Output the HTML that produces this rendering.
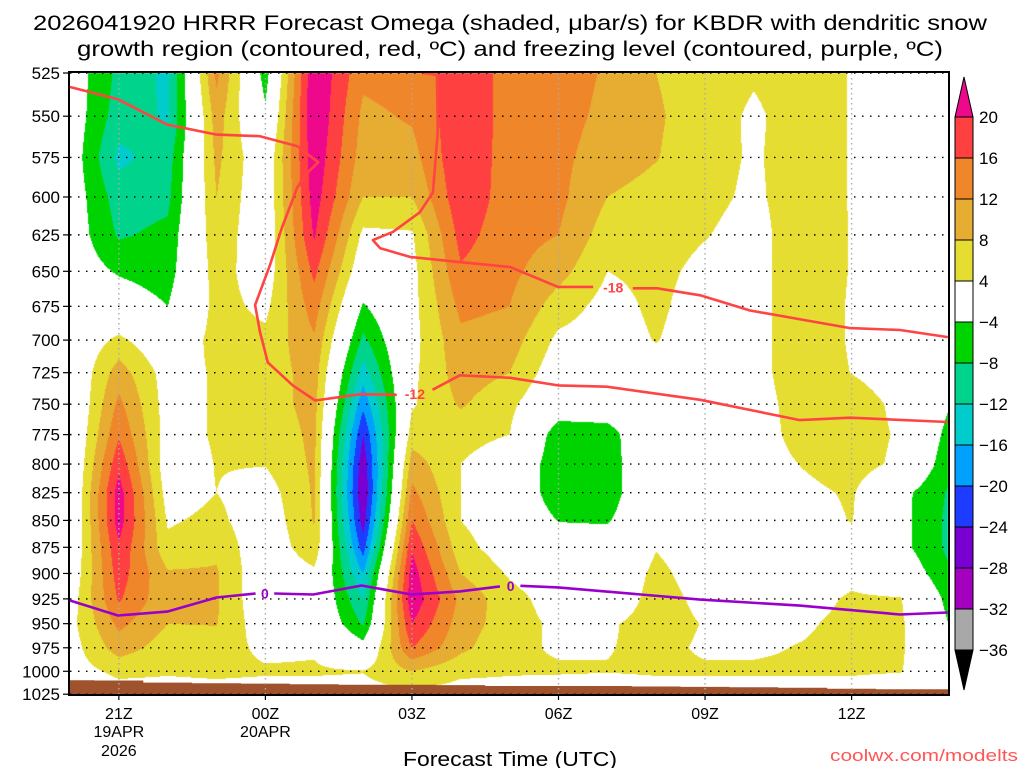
<!DOCTYPE html>
<html><head><meta charset="utf-8"><style>
html,body{margin:0;padding:0;background:#fff;width:1024px;height:768px;overflow:hidden}
#wrap{position:relative;width:1024px;height:768px}
canvas,svg{position:absolute;left:0;top:0}
text{font-family:"Liberation Sans",sans-serif}
</style></head><body>
<div id="wrap">
<canvas id="cv" width="1024" height="768"></canvas>
<svg id="sv" width="1024" height="768">
<text x="510" y="30" text-anchor="middle" font-size="21" textLength="954" lengthAdjust="spacingAndGlyphs">2026041920 HRRR Forecast Omega (shaded, μbar/s) for KBDR with dendritic snow</text>
<text x="510" y="56" text-anchor="middle" font-size="21" textLength="866" lengthAdjust="spacingAndGlyphs">growth region (contoured, red, ºC) and freezing level (contoured, purple, ºC)</text>
<text x="510" y="766" text-anchor="middle" font-size="20" textLength="214" lengthAdjust="spacingAndGlyphs">Forecast Time (UTC)</text>
<text x="1018" y="761" text-anchor="end" font-size="17" fill="#ff5555" textLength="188" lengthAdjust="spacingAndGlyphs">coolwx.com/modelts</text>
<g id="grid"></g><g id="lines"></g><g id="axes"></g><g id="cbar"></g>
</svg>
</div>
<script>
// ---- data ----
const levels=[525,550,575,600,625,650,675,700,725,750,775,800,825,850,875,900,925,950,975,1000,1025];
const hourLabels=['20Z','21Z','22Z','23Z','00Z','01Z','02Z','03Z','04Z','05Z','06Z','07Z','08Z','09Z','10Z','11Z','12Z','13Z','14Z'];
const w20=[-1,-1,-1,-1,-1,-1,0,0,-1,-2,-2,-2,-2,-2,-1,0,1.5,2.5,2,2,0];
const w21=[-9,-10,-13,-10,-8.5,-4.5,-1,5,10,13,15.5,19,22,22,19.5,18,16.5,13,10,5,2];
const w22=[-13,-12.5,-10,-9,-7,-6,-4,0,2,2,2,1,2,3.5,5,8.5,9,8,6,4.5,2];
const w23=[13,10,9,8,7,6,5.5,5.5,4.5,4.5,4.5,4.2,4,5,7,8.5,8.5,8.2,6,5,2];
const w00=[-6,-3,0,0,0,1,3,5,5.5,6,5,4.2,2,1,0.5,0,0,1,3,4.5,2];
const w01=[24,24,23,22,20.5,17,14,11.5,10,9.5,9,8.7,8.5,8.3,7,3,2,2,3.5,4.5,2];
const w02=[13,11,10,8,3,0,-4.5,-9,-14,-19,-24,-27,-28,-26,-22,-16,-12,-8.5,-2,4.2,2];
const w03=[14,12.5,10.5,8,3.5,2.5,2.5,2.5,3,3.5,6,10,13,16,19.5,22,23,20,16,8,3];
const w04=[18,19,19.5,19,17.5,15.5,13,11,10,8.5,5.5,4,4,4,5.5,8,11,10,9,5,2];
const w05=[15,14.5,14,14,13.5,13,12,10,8,5,4,1,1,1,1.5,3.5,5.5,6,5,4.5,2];
const w06=[14,13.5,13,13,12,9.5,6,3,1,-1,-6.5,-7,-7,-4.2,-1,1,2,3,3.5,4.5,1];
const w07=[11.5,11,10,8,6,4,2.5,2,1,0,-6.5,-7,-7,-4.5,-1,0,1,3.5,3.8,4.2,1];
const w08=[8,8.5,8.2,6.5,5.5,5,4.8,4.2,2,1,3,3,3,2,3.8,5,5.5,5.5,5,4.5,2];
const w09=[6,6,5.5,5,4.2,3,2,1.5,1.5,1.5,1.5,1.5,1.5,1.5,1.5,2,3,3.8,3.5,4.5,2];
const w10=[4.5,3.3,3.5,3.3,2.5,2.5,2.5,2.5,2.5,2,2,2,2,1.5,1.5,1.5,2,3,3.5,4.5,2];
const w11=[6,6,6,6,6.5,6.5,6.5,6.5,6.5,6,5.5,4.2,3,2,1,1,2.5,3.5,4.2,4.5,2];
const w12=[3.8,3.8,3.8,3.8,3.8,3.8,3.6,3.6,3.9,6,6,6,4.5,4.2,2,3,4.5,5,5,4.5,2];
const w13=[2,2,2,2,2,2,2,2,2,3,3.5,3,-2.5,-2.5,-2.5,0,4.3,4.8,4.6,4.2,1];
const w14=[0,0,0,0,0,0,0,0,0,-3.8,-5.5,-7,-8.5,-9,-9,-7.5,-5.5,-4.2,-2,0,0];
const omegaCols=[w20,w21,w22,w23,w00,w01,w02,w03,w04,w05,w06,w07,w08,w09,w10,w11,w12,w13,w14];
const surfaceP=[1009.6,1010,1012.3,1013,1013.4,1014,1014.5,1014.5,1015,1016,1016,1016,1016.5,1017,1017.3,1018,1019,1019.5,1019.5];
const m12aH=[0,0.98,1.99,3.0,3.89,4.65,5.08,4.81,4.65,4.34,4.09,3.79,3.89,4.05,4.56,5.02,5.94,6.69];
const m12aP=[533,540,555,561,562,568,578,586,594,620,646,674,694,717,735,747,742,742.5];
const m12bH=[7.42,7.98,9.01,9.99,10.99,12.9,14.94,15.97,17.97];
const m12bP=[738.5,727,729,735,736,746.5,763,761,764.5];
const m18aH=[7.23,7.51,7.53,7.43,7.16,6.61,6.2,6.35,6.96,7.98,9.01,9.99,10.71];
const m18aP=[525,526,559,597,610,623,628.5,634,640,643.6,647,661,661];
const m18bH=[11.52,12.02,12.9,13.92,15.97,16.99,17.97];
const m18bP=[662,662,667,678,691,692.4,697.7];
const fzaH=[0,0.98,1.99,3.0,3.8];
const fzaP=[926.6,941.7,937.7,923.6,919.6];
const fzbH=[4.18,4.98,5.97,6.99,7.98,8.8];
const fzbP=[919.6,920.6,911.7,920.6,917.6,912.6];
const fzcH=[9.22,9.99,12.9,14.94,16.99,17.97];
const fzcP=[912,913.6,925.7,931.7,940.7,938.7];
const cbarLevels=[20,16,12,8,4,-4,-8,-12,-16,-20,-24,-28,-32,-36];
const cbarColors=['#ff4040','#f0862a','#e6ad32','#e6dd32','#ffffff','#00d400','#00d48c','#00cccc','#00a0ff','#1e3cff','#7800d2','#a400c0','#a8a8a8'];

// ---- scales ----
const X0=70,X1=948,Y0=73,Y1=694,HS=48.85,K=928.5;
const xs=h=>X0+h*HS;
const ys=p=>Y0+K*Math.log(p/525);
function colorFor(v){
  if(v>=20)return[238,8,140];if(v>=16)return[255,64,64];if(v>=12)return[240,134,42];
  if(v>=8)return[230,173,50];if(v>=4)return[230,221,50];if(v>-4)return[255,255,255];
  if(v>-8)return[0,212,0];if(v>-12)return[0,212,140];if(v>-16)return[0,204,204];
  if(v>-20)return[0,160,255];if(v>-24)return[30,60,255];if(v>-28)return[120,0,210];
  if(v>-32)return[164,0,192];if(v>-36)return[168,168,168];return[0,0,0];
}
const cv=document.getElementById('cv'),ctx=cv.getContext('2d');
ctx.fillStyle='#fff';ctx.fillRect(0,0,1024,768);
const W=X1-X0,H=Y1-Y0,img=ctx.createImageData(W,H);
const nC=omegaCols.length,nR=levels.length;
for(let j=0;j<H;j++){
  const p=525*Math.exp((j+0.5)/K);
  let r=(p-levels[0])/25;r=Math.max(0,Math.min(nR-1.0001,r));
  const r0=Math.floor(r),fr=r-r0;
  for(let i=0;i<W;i++){
    let c=(i+0.5)/HS;c=Math.max(0,Math.min(nC-1.0001,c));
    const c0=Math.floor(c),fc=c-c0;
    const a=omegaCols[c0][r0],b=omegaCols[c0+1][r0],d=omegaCols[c0][r0+1],e=omegaCols[c0+1][r0+1];
    const v=(a*(1-fc)+b*fc)*(1-fr)+(d*(1-fc)+e*fc)*fr;
    const col=colorFor(v),k=(j*W+i)*4;
    img.data[k]=col[0];img.data[k+1]=col[1];img.data[k+2]=col[2];img.data[k+3]=255;
  }
}
ctx.putImageData(img,X0,Y0);

const NS='http://www.w3.org/2000/svg';
function mk(tag,attrs,parent,txt){const e=document.createElementNS(NS,tag);for(const k in attrs)e.setAttribute(k,attrs[k]);if(txt!==undefined)e.textContent=txt;parent.appendChild(e);return e;}
const grid=document.getElementById('grid'),lines=document.getElementById('lines'),axes=document.getElementById('axes'),cbar=document.getElementById('cbar');

let d='M'+X0+' '+Y1;
surfaceP.forEach((p,i)=>{const xa=Math.max(X0,xs(i-0.5)),xb=Math.min(X1,xs(i+0.5));d+=' L'+xa.toFixed(1)+' '+ys(p).toFixed(1)+' L'+xb.toFixed(1)+' '+ys(p).toFixed(1);});
d+=' L'+X1+' '+Y1+' Z';
const terr=mk('path',{d:d,fill:'#a0522d'},grid);



levels.forEach(p=>{
  const g=mk('line',{x1:X0,x2:X1,y1:ys(p),y2:ys(p),stroke:'#000','stroke-width':1.4,'stroke-dasharray':'1.5 6.5'},grid);
  
  
});
for(let h=1;h<hourLabels.length;h+=3){
  const g=mk('line',{x1:xs(h),x2:xs(h),y1:Y0,y2:Y1,stroke:'#aaa','stroke-width':1.4,'stroke-dasharray':'1.5 3.5'},grid);
  
  
}

function poly(H,P,color,name){
  const pts=H.map((h,i)=>xs(h).toFixed(1)+','+ys(P[i]).toFixed(1)).join(' ');
  const e=mk('polyline',{points:pts,fill:'none',stroke:color,'stroke-width':2.6,'stroke-linejoin':'round'},lines);
  
  
}
function lab(h,p,t,color,name){
  const e=mk('text',{x:xs(h),y:ys(p)+5,'text-anchor':'middle','font-size':14,'font-weight':'bold',fill:color},lines,t);
  
  
}
poly(m12aH,m12aP,'#ff4444','isotherm-minus12-a');poly(m12bH,m12bP,'#ff4444','isotherm-minus12-b');
lab(7.06,742,'-12','#ff4444','isotherm-label-minus12');
poly(m18aH,m18aP,'#ff4444','isotherm-minus18-a');poly(m18bH,m18bP,'#ff4444','isotherm-minus18-b');
lab(11.12,661.5,'-18','#ff4444','isotherm-label-minus18');
poly(fzaH,fzaP,'#9a00cc','freezing-level-a');poly(fzbH,fzbP,'#9a00cc','freezing-level-b');poly(fzcH,fzcP,'#9a00cc','freezing-level-c');
lab(3.99,919.6,'0','#9a00cc','freezing-label-1');lab(9.02,912.3,'0','#9a00cc','freezing-label-2');

const fr=mk('rect',{x:X0-1,y:Y0-1,width:X1-X0+2,height:Y1-Y0+2,fill:'none',stroke:'#000','stroke-width':2},axes);


levels.forEach(p=>{
  const t=mk('line',{x1:X0-7,x2:X0-1,y1:ys(p),y2:ys(p),stroke:'#000','stroke-width':1.2},axes);
  
  
  const l=mk('text',{x:X0-10,y:ys(p)+6,'text-anchor':'end','font-size':17},axes,String(p));
  
  
});
const xSub={1:['19APR','2026'],4:['20APR']};
for(let h=1;h<hourLabels.length;h+=3){
  const t=mk('line',{x1:xs(h),x2:xs(h),y1:Y1+1,y2:Y1+6,stroke:'#000','stroke-width':1.2},axes);
  
  
  const l=mk('text',{x:xs(h),y:719,'text-anchor':'middle','font-size':16},axes,hourLabels[h]);
  
  
  (xSub[h]||[]).forEach((s,k)=>{
    const e=mk('text',{x:xs(h),y:737+k*19,'text-anchor':'middle','font-size':16},axes,s);
    
    
  });
}
const CX=955,CW=18,CT=117,CS=41;
const up=mk('polygon',{points:`${CX},${CT} ${CX+CW},${CT} ${CX+CW/2},${CT-40}`,fill:'#ee088c',stroke:'#000','stroke-width':1},cbar);


cbarColors.forEach((c,i)=>{
  const r=mk('rect',{x:CX,y:CT+i*CS,width:CW,height:CS,fill:c,stroke:'#000','stroke-width':1},cbar);
  
  
});
const bot=CT+cbarColors.length*CS;
const dn=mk('polygon',{points:`${CX},${bot} ${CX+CW},${bot} ${CX+CW/2},${bot+40}`,fill:'#000',stroke:'#000','stroke-width':1},cbar);


cbarLevels.forEach((v,i)=>{
  const t=mk('text',{x:979,y:CT+i*CS+6,'font-size':17},cbar,(v<0?'−':'')+Math.abs(v));
  
  
});
</script>
</body></html>
